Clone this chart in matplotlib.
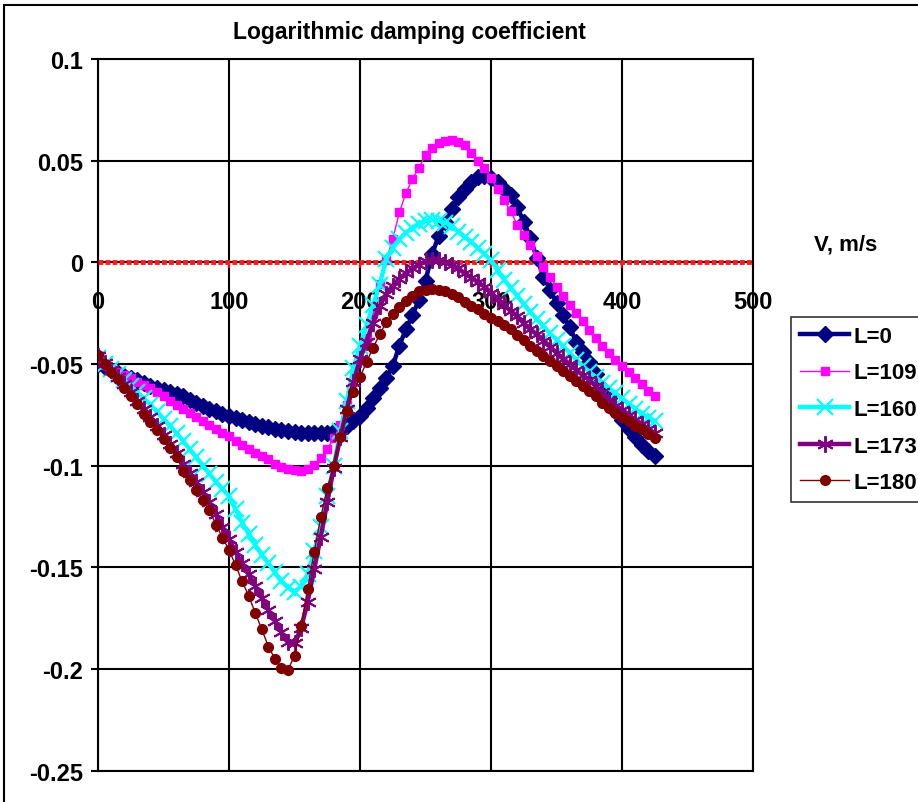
import matplotlib
matplotlib.use("Agg")
import matplotlib.pyplot as plt
from matplotlib.patches import Rectangle

plt.rcParams['font.family'] = ['Liberation Sans', 'DejaVu Sans']

# speed, m/s (one point every 5 m/s)
v = list(range(0, 430, 5))

L0 = [-0.050, -0.0515, -0.053, -0.0545, -0.056, -0.057, -0.058, -0.0595, -0.061, -0.062,
      -0.063, -0.064, -0.065, -0.066, -0.0675, -0.069, -0.0705, -0.072, -0.073, -0.0745,
      -0.0755, -0.0765, -0.0775, -0.0785, -0.0795, -0.0803, -0.081, -0.0818, -0.0825, -0.083,
      -0.0835, -0.0838, -0.084, -0.084, -0.084, -0.0838, -0.083, -0.082, -0.0805, -0.078,
      -0.0755, -0.0715, -0.067, -0.062, -0.057, -0.051, -0.041, -0.033, -0.026, -0.0185,
      -0.009, 0.004, 0.013, 0.020, 0.026, 0.032, 0.036, 0.0395, 0.042, 0.0425,
      0.0415, 0.0395, 0.036, 0.033, 0.027, 0.020, 0.012, 0.002, -0.007, -0.0135,
      -0.020, -0.026, -0.032, -0.039, -0.044, -0.049, -0.055, -0.062, -0.067, -0.073,
      -0.0775, -0.082, -0.086, -0.090, -0.093, -0.0955]

L109 = [-0.048, -0.0505, -0.052, -0.054, -0.0555, -0.057, -0.059, -0.0605, -0.062, -0.064,
        -0.066, -0.068, -0.070, -0.072, -0.074, -0.076, -0.078, -0.080, -0.082, -0.084,
        -0.0855, -0.088, -0.090, -0.092, -0.094, -0.0955, -0.097, -0.099, -0.1005, -0.1015,
        -0.102, -0.1025, -0.1015, -0.0995, -0.0965, -0.092, -0.0865, -0.080, -0.070, -0.059,
        -0.048, -0.037, -0.0255, -0.0105, 0.001, 0.0115, 0.0245, 0.034, 0.041, 0.0465,
        0.053, 0.056, 0.0585, 0.0598, 0.060, 0.0592, 0.0575, 0.054, 0.050, 0.0465,
        0.0415, 0.036, 0.0305, 0.025, 0.0185, 0.0135, 0.0085, 0.003, -0.0025, -0.007,
        -0.012, -0.0165, -0.021, -0.025, -0.029, -0.0335, -0.037, -0.041, -0.0445, -0.048,
        -0.051, -0.054, -0.057, -0.060, -0.0635, -0.066]

L160 = [-0.047, -0.050, -0.0525, -0.055, -0.058, -0.061, -0.064, -0.067, -0.070, -0.0735,
        -0.077, -0.0805, -0.084, -0.088, -0.092, -0.096, -0.100, -0.104, -0.108, -0.1115,
        -0.115, -0.1215, -0.128, -0.1335, -0.139, -0.1438, -0.148, -0.1525, -0.157, -0.160,
        -0.162, -0.1595, -0.1535, -0.142, -0.130, -0.115, -0.100, -0.083, -0.068, -0.052,
        -0.041, -0.031, -0.021, -0.011, 0.0015, 0.007, 0.0115, 0.0145, 0.017, 0.019,
        0.0205, 0.021, 0.0205, 0.0195, 0.018, 0.015, 0.0125, 0.010, 0.007, 0.004,
        0.001, -0.004, -0.0085, -0.0125, -0.0165, -0.0205, -0.0245, -0.028, -0.0315, -0.035,
        -0.038, -0.0413, -0.0445, -0.048, -0.051, -0.054, -0.0565, -0.0595, -0.062, -0.0645,
        -0.067, -0.0695, -0.072, -0.0745, -0.0765, -0.078]

L173 = [-0.046, -0.0495, -0.053, -0.0565, -0.060, -0.064, -0.068, -0.072, -0.076, -0.0805,
        -0.085, -0.0895, -0.094, -0.099, -0.1035, -0.108, -0.113, -0.118, -0.124, -0.130,
        -0.136, -0.1425, -0.148, -0.1535, -0.159, -0.165, -0.171, -0.1765, -0.182, -0.187,
        -0.1875, -0.180, -0.167, -0.151, -0.135, -0.118, -0.101, -0.086, -0.072, -0.059,
        -0.0475, -0.039, -0.030, -0.0215, -0.0155, -0.0115, -0.008, -0.0055, -0.003, -0.0012,
        0.0005, 0.0013, 0.001, 0.0, -0.0015, -0.003, -0.0055, -0.0075, -0.0098, -0.012,
        -0.015, -0.018, -0.021, -0.024, -0.0265, -0.030, -0.033, -0.0355, -0.0385, -0.0415,
        -0.0445, -0.0475, -0.050, -0.053, -0.0555, -0.058, -0.061, -0.064, -0.0675, -0.0705,
        -0.0725, -0.075, -0.0775, -0.0795, -0.082, -0.084]

L180 = [-0.0455, -0.050, -0.054, -0.0575, -0.062, -0.066, -0.0695, -0.0745, -0.0785, -0.0825,
        -0.087, -0.0915, -0.096, -0.1025, -0.107, -0.112, -0.117, -0.122, -0.129, -0.1355,
        -0.1415, -0.149, -0.157, -0.164, -0.1725, -0.1805, -0.189, -0.195, -0.1995, -0.2005,
        -0.1935, -0.179, -0.1605, -0.1425, -0.1255, -0.111, -0.100, -0.086, -0.073, -0.064,
        -0.0565, -0.049, -0.042, -0.0355, -0.0295, -0.0255, -0.022, -0.0188, -0.0165, -0.0143,
        -0.0135, -0.0133, -0.0135, -0.0141, -0.0155, -0.0172, -0.0193, -0.0213, -0.0232, -0.0255,
        -0.0272, -0.029, -0.031, -0.033, -0.0357, -0.038, -0.0413, -0.0438, -0.046, -0.0486,
        -0.051, -0.0535, -0.056, -0.0584, -0.0609, -0.0633, -0.0658, -0.069, -0.0715, -0.074,
        -0.076, -0.078, -0.0805, -0.082, -0.0845, -0.0862]

x_ticks = [0, 100, 200, 300, 400, 500]
y_ticks = [-0.25, -0.2, -0.15, -0.1, -0.05, 0, 0.05, 0.1]
y_labels = ['-0.25', '-0.2', '-0.15', '-0.1', '-0.05', '0', '0.05', '0.1']

fig = plt.figure(figsize=(9.18, 8.03), dpi=100)
ax = fig.add_axes([0.1068, 0.0392, 0.7135, 0.8861])

# chart border (Excel chart area)
fig.patches.append(Rectangle((4 / 918, -0.1), 1.2, 1.1 - 6 / 803, transform=fig.transFigure,
                             fill=False, edgecolor='black', lw=1.5))

# zero line
ax.axhline(0, color='#ff1a1a', lw=3.5, linestyle=(0, (1.0, 0.45)), zorder=3)

star = (6, 2, 0)
ax.plot(v, L0, color='#000080', lw=3.2, marker='D', ms=8, label='L=0', zorder=4)
ax.plot(v, L109, color='#ff00ff', lw=1, marker='s', ms=6, label='L=109', zorder=5)
ax.plot(v, L160, color='#00ffff', lw=3.2, marker='x', ms=11, mew=1.6, label='L=160', zorder=6)
ax.plot(v, L173, color='#800080', lw=3.2, marker=star, ms=12, mew=1.4, label='L=173', zorder=7)
ax.plot(v, L180, color='#800000', lw=1, marker='o', ms=7, label='L=180', zorder=8)

ax.set_xlim(0, 500)
ax.set_ylim(-0.25, 0.1)
ax.set_xticks(x_ticks)
ax.set_yticks(y_ticks)
ax.set_yticklabels(y_labels)
ax.grid(True, color='black', lw=1.5, zorder=0)
ax.set_axisbelow(True)
ax.axhline(-0.25, color='black', lw=1.5, clip_on=False, zorder=1)
ax.axhline(0.1, color='black', lw=1.5, clip_on=False, zorder=1)
ax.axvline(500, color='black', lw=1.5, clip_on=False, zorder=1)

for s in ['top', 'right']:
    ax.spines[s].set_visible(False)
ax.spines['bottom'].set_position(('data', 0))
ax.spines['bottom'].set_visible(False)
ax.spines['left'].set_linewidth(1.5)

ax.tick_params(axis='x', direction='out', length=4, width=1.5, color='#ff0000', pad=16)
ax.tick_params(axis='y', direction='out', length=5, width=1.5, pad=6)
for lab in ax.get_xticklabels() + ax.get_yticklabels():
    lab.set_fontsize(17)
    lab.set_fontweight('bold')

fig.text(0.446, 0.96, 'Logarithmic damping coefficient', ha='center', va='center',
         fontsize=16.5, fontweight='bold')
fig.text(0.921, 0.695, 'V, m/s', ha='center', va='center', fontsize=16, fontweight='bold')

leg = fig.legend(loc='upper left', bbox_to_anchor=(0.862, 0.604), frameon=True,
                 fancybox=False, shadow=False, handlelength=2.2, labelspacing=0.7,
                 borderpad=0.4, borderaxespad=0, handletextpad=0.2,
                 prop={'size': 16, 'weight': 'bold'})
leg.get_frame().set_edgecolor('black')
leg.get_frame().set_linewidth(1.2)

fig.savefig('out.png', dpi=100)
